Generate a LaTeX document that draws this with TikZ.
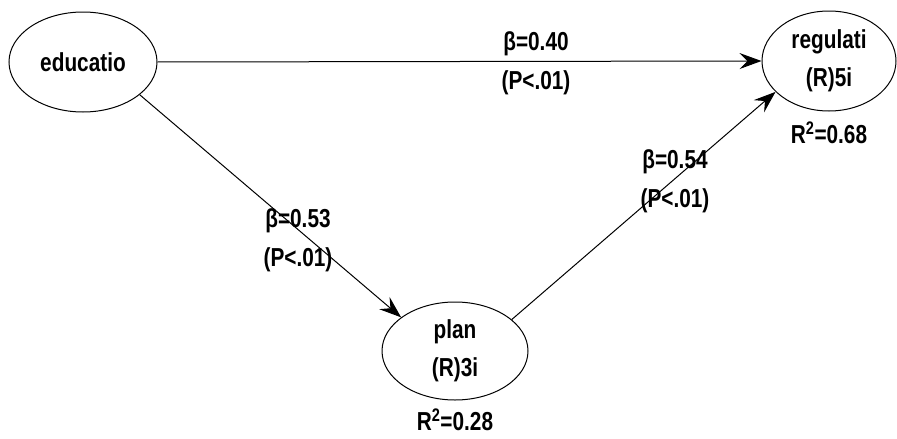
\documentclass[tikz,border=0pt]{standalone}
\usepackage{fontspec}
\setmainfont{Liberation Sans}[FakeStretch=0.8]
\usetikzlibrary{shapes.geometric,arrows.meta}

\tikzset{
  latente/.style={draw, ellipse, line width=1pt, inner sep=0pt,
    font=\bfseries\fontsize{26}{38}\selectfont, align=center},
  coef/.style={font=\bfseries\fontsize{26}{39}\selectfont, align=center, inner sep=0pt},
  flecha/.style={line width=1pt, -{Stealth[length=22pt, width=16pt, inset=8pt]}}
}

\begin{document}
\begin{tikzpicture}[x=1pt, y=-1pt]

        % Marco
        \useasboundingbox (0,0) rectangle (897,439);

        % Variables
        \node[latente, minimum width=148pt, minimum height=100pt] (educatio) at (83,62) {educatio};
        \node[latente, minimum width=134pt, minimum height=100pt] (regulati) at (829,61) {regulati\\(R)5i};
        \node[latente, minimum width=146pt, minimum height=98pt] (plan) at (455,351) {plan\\(R)3i};

        % R cuadrado
        \node[coef] (r2reg) at (829,133) {R\textsuperscript{2}=0.68};
        \node[coef] (r2plan) at (455,420) {R\textsuperscript{2}=0.28};

        % Caminos
        \draw[flecha] (educatio.east) -- (regulati.west);
        \draw[flecha] (educatio.-30) -- (plan.148);
        \draw[flecha] (plan.29) -- (regulati.210);

        % Coeficientes
        \node[coef] (c1) at (536,63) {β=0.40\\(P<.01)};
        \node[coef] (c2) at (298,240) {β=0.53\\(P<.01)};
        \node[coef] (c3) at (675,181) {β=0.54\\(P<.01)};

\end{tikzpicture}
\end{document}
